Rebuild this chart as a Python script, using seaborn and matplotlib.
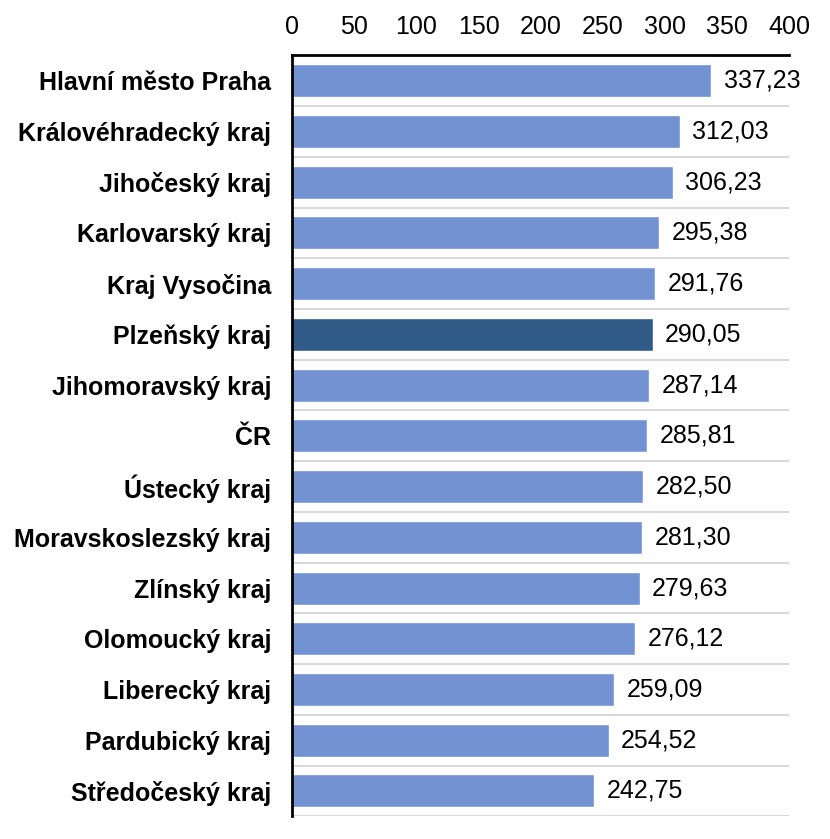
import matplotlib
matplotlib.use("Agg")
import matplotlib.pyplot as plt
import numpy as np
import pandas as pd
import seaborn as sns

# data
regions = [
    "Hlavní město Praha",
    "Královéhradecký kraj",
    "Jihočeský kraj",
    "Karlovarský kraj",
    "Kraj Vysočina",
    "Plzeňský kraj",
    "Jihomoravský kraj",
    "ČR",
    "Ústecký kraj",
    "Moravskoslezský kraj",
    "Zlínský kraj",
    "Olomoucký kraj",
    "Liberecký kraj",
    "Pardubický kraj",
    "Středočeský kraj",
]
values = [337.23, 312.03, 306.23, 295.38, 291.76, 290.05, 287.14, 285.81,
          282.50, 281.30, 279.63, 276.12, 259.09, 254.52, 242.75]
highlight = "Plzeňský kraj"

df = pd.DataFrame({"region": regions, "value": values})
df["group"] = np.where(df["region"] == highlight, "hl", "other")

sns.set_style("white")
plt.rcParams["font.family"] = ["Liberation Sans", "DejaVu Sans"]
plt.rcParams["text.color"] = "black"
plt.rcParams["xtick.color"] = "black"
plt.rcParams["ytick.color"] = "black"

fig = plt.figure(figsize=(8.3, 8.39), dpi=100)
ax = fig.add_axes([0.352, 0.027, 0.599, 0.907])

sns.barplot(
    data=df, x="value", y="region", hue="group", orient="h",
    palette={"other": "#7292D1", "hl": "#2F5B86"},
    width=0.65, dodge=False, legend=False, ax=ax, saturation=1,
)

fs = 18
for cont in ax.containers:
    ax.bar_label(cont, labels=[f"{v:.2f}".replace(".", ",") for v in cont.datavalues],
                 padding=9, fontsize=fs, color="black")

ax.set_xlim(0, 400)
ax.set_xticks(range(0, 401, 50))
ax.xaxis.tick_top()
ax.tick_params(axis="x", length=0, labelsize=fs, pad=12)
ax.tick_params(axis="y", length=0, labelsize=fs, pad=15)
for lab in ax.get_yticklabels():
    lab.set_fontweight("bold")
ax.set_xlabel("")
ax.set_ylabel("")

# gridlines between categories
n = len(regions)
ax.set_ylim(n - 0.5, -0.5)
ax.set_yticks(np.arange(-0.5, n, 1), minor=True)
ax.grid(axis="y", which="minor", color="#D9D9D9", linewidth=1.5)
ax.grid(axis="y", which="major", visible=False)
ax.grid(axis="x", visible=False)
ax.set_axisbelow(True)

for s in ["right", "bottom"]:
    ax.spines[s].set_visible(False)
ax.spines["left"].set_color("black")
ax.spines["left"].set_linewidth(2)
ax.spines["top"].set_color("black")
ax.spines["top"].set_linewidth(2)

fig.savefig("out.png", dpi=100)
